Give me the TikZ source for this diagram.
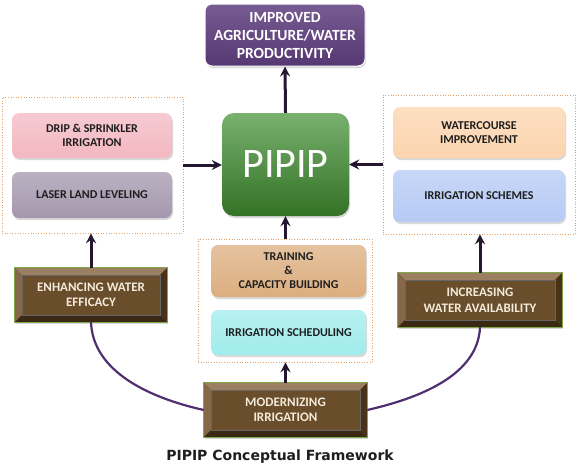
\documentclass[tikz,border=0pt]{standalone}
\usepackage{fontspec}
\setmainfont{Carlito}
\newfontfamily\capfont{DejaVu Sans}
\usetikzlibrary{shadows,arrows.meta}
\definecolor{purp}{HTML}{5F3E7F}
\definecolor{grn}{HTML}{3F8F30}
\definecolor{pinkc}{HTML}{F3B8C2}
\definecolor{lavc}{HTML}{A597AE}
\definecolor{peachc}{HTML}{FCD4AE}
\definecolor{bluec}{HTML}{B6CAF5}
\definecolor{tanc}{HTML}{DCAE80}
\definecolor{cyanc}{HTML}{A0ECEC}
\definecolor{brownc}{HTML}{6A4D2A}
\definecolor{bevL}{HTML}{9A8060}
\definecolor{bevM}{HTML}{846848}
\definecolor{bevD}{HTML}{3C2914}
\definecolor{bevR}{HTML}{4A3219}
\definecolor{bevG}{HTML}{7FA84A}
\definecolor{cream}{HTML}{F3EBDC}
\definecolor{arrc}{HTML}{24162F}
\definecolor{curvc}{HTML}{4E3070}
\definecolor{contc}{HTML}{E5A26A}
\definecolor{txtc}{HTML}{1E1E1E}
\begin{document}
\begin{tikzpicture}[x=1pt,y=-1pt,
  rbox/.style={rounded corners=7pt, inner sep=2pt, align=center,
    font=\bfseries\fontsize{12}{14}\selectfont, text=txtc,
    drop shadow={opacity=0.3, shadow xshift=1pt, shadow yshift=-2pt}},
  shadebox/.style={rbox, top color=#1!75!white, bottom color=#1},
  container/.style={draw=contc, dotted, line width=0.6pt, inner sep=0pt},
  bevelbox/.style={fill=brownc, inner sep=0pt, align=center, text=cream,
    font=\bfseries\fontsize{13}{15.5}\selectfont,
    drop shadow={opacity=0.3, shadow xshift=1pt, shadow yshift=-2pt}},
  arr/.style={draw=arrc, line width=3pt, -{Stealth[length=10pt,width=10pt,inset=3.5pt]}},
  curve/.style={draw=curvc, line width=2.2pt}
]
\useasboundingbox (0,0) rectangle (580,466);
% containers
\node[container, minimum width=181pt, minimum height=136pt] (leftc) at (92.5,165) {};
\node[container, minimum width=192pt, minimum height=139pt] (rightc) at (479,164.5) {};
\node[container, minimum width=174pt, minimum height=123pt] (midc) at (285,300.5) {};
% top box
\node[rbox, top color=purp!85!white, bottom color=purp!90!black, text=white,
  font=\bfseries\fontsize{15.5}{18}\selectfont,
  minimum width=160pt, minimum height=62pt, draw=white, line width=1pt] (top) at (285,35)
  {IMPROVED\\AGRICULTURE/WATER\\PRODUCTIVITY};
% PIPIP
\node[rbox, rounded corners=12pt, top color=grn!70!white, bottom color=grn!80!black, text=white,
  font=\fontsize{42}{42}\selectfont,
  minimum width=127pt, minimum height=103pt] (pipip) at (285.5,164.5) {PIPIP};
% left group
\node[shadebox=pinkc, minimum width=160pt, minimum height=45pt] (drip) at (92,135.5) {DRIP \& SPRINKLER\\IRRIGATION};
\node[shadebox=lavc, minimum width=160pt, minimum height=46pt] (laser) at (92,195) {LASER LAND LEVELING};
% right group
\node[shadebox=peachc, minimum width=172pt, minimum height=51pt] (water) at (479,132.5) {WATERCOURSE\\IMPROVEMENT};
\node[shadebox=bluec, minimum width=172pt, minimum height=52pt] (schemes) at (479,196) {IRRIGATION SCHEMES};
% middle group
\node[shadebox=tanc, minimum width=155pt, minimum height=52pt] (training) at (288.5,271) {TRAINING\\\&\\CAPACITY BUILDING};
\node[shadebox=cyanc, minimum width=155pt, minimum height=45pt] (sched) at (288.5,332.5) {IRRIGATION SCHEDULING};
% bevel boxes
\node[bevelbox, minimum width=152pt, minimum height=54pt] (enh) at (91,295) {ENHANCING WATER\\EFFICACY};
\node[bevelbox, minimum width=164pt, minimum height=54pt] (inc) at (480,300) {INCREASING\\WATER AVAILABILITY};
\node[bevelbox, minimum width=163pt, minimum height=54pt] (mod) at (285.5,410) {MODERNIZING\\IRRIGATION};
\foreach \n in {enh,inc,mod}{
  \fill[bevL] (\n.north west) -- (\n.north east) -- ([xshift=-7pt,yshift=-7pt]\n.north east) -- ([xshift=7pt,yshift=-7pt]\n.north west) -- cycle;
  \fill[bevM] (\n.north west) -- ([xshift=7pt,yshift=-7pt]\n.north west) -- ([xshift=7pt,yshift=7pt]\n.south west) -- (\n.south west) -- cycle;
  \fill[bevD] (\n.south west) -- ([xshift=7pt,yshift=7pt]\n.south west) -- ([xshift=-7pt,yshift=7pt]\n.south east) -- (\n.south east) -- cycle;
  \fill[bevR] (\n.south east) -- ([xshift=-7pt,yshift=7pt]\n.south east) -- ([xshift=-7pt,yshift=-7pt]\n.north east) -- (\n.north east) -- cycle;
  \draw[black!60, line width=0.4pt] ([xshift=7pt,yshift=-7pt]\n.north west) rectangle ([xshift=-7pt,yshift=7pt]\n.south east);
  \draw[bevG, line width=0.9pt] (\n.north west) rectangle (\n.south east);
}
% arrows
\draw[arr] (pipip.north) -- (top.south);
\draw[arr] (leftc.east) -- (leftc.east -| pipip.west);
\draw[arr] (rightc.west) -- (rightc.west -| pipip.east);
\draw[arr] (midc.north -| pipip.south) -- (pipip.south);
\draw[arr] (enh.north) -- (enh.north |- leftc.south);
\draw[arr] (inc.north) -- (inc.north |- rightc.south);
\draw[arr] (mod.north) -- (mod.north |- midc.south);
% curves
\draw[curve] (enh.south) .. controls (93,372) and (150,398) .. (mod.west);
\draw[curve] (inc.south) .. controls (478,375) and (420,398) .. (mod.east);
% caption
\node[font=\capfont\bfseries\fontsize{14}{16}\selectfont, text=txtc] (cap) at (280,457) {PIPIP Conceptual Framework};
\end{tikzpicture}
\end{document}
